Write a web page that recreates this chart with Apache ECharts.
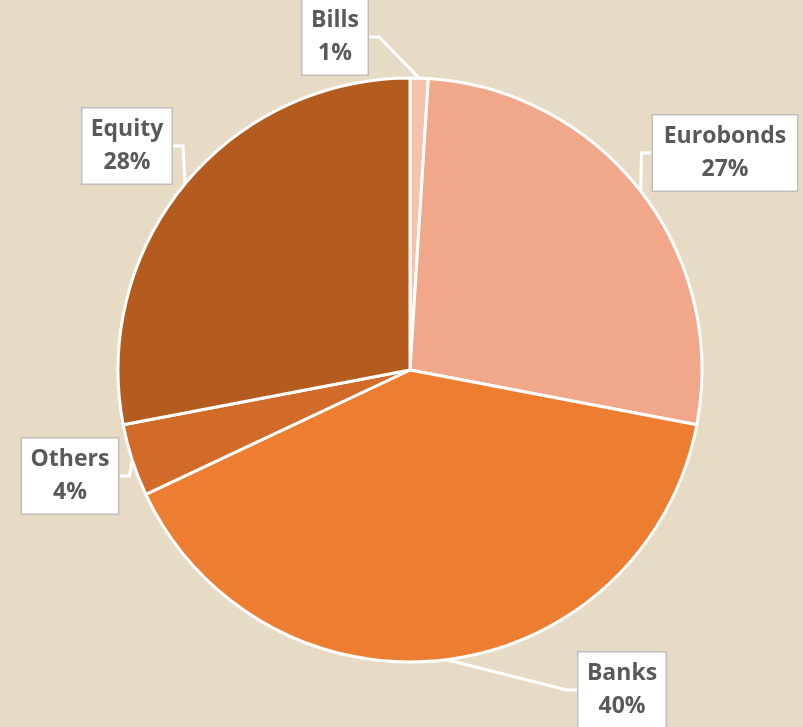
<!DOCTYPE html>
<html>
<head>
<meta charset="utf-8">
<script src="https://cdn.jsdelivr.net/npm/echarts@6/dist/echarts.min.js"></script>
<style>
  html, body { margin: 0; padding: 0; background: #E8DBC5; }
  #chart { width: 803px; height: 727px; }
</style>
</head>
<body>
<div id="chart"></div>
<script>
// 数据
const categories = ['Bills', 'Eurobonds', 'Banks', 'Others', 'Equity']
const shares = [1, 27, 40, 4, 28]
const colors = ['#F5C2AB', '#F1A78A', '#ED7D31', '#D26A29', '#B45C1F']

// 标签框中心位置与宽度
const labelPos = [[335, 37], [725, 153], [622, 690], [70, 476], [127, 146]]
const labelWidths = [49, 128, 71, 80, 73]

const chart = echarts.init(document.getElementById('chart'))

const option = {
  backgroundColor: '#E8DBC5',
  animation: false,
  series: [
    {
      type: 'pie',
      center: [410, 370],
      radius: 292,
      startAngle: 90,
      clockwise: true,
      data: categories.map((name, i) => ({
        name: name,
        value: shares[i],
        itemStyle: { color: colors[i] },
        label: { width: labelWidths[i] }
      })),
      itemStyle: { borderColor: '#fff', borderWidth: 3 },
      label: {
        show: true,
        formatter: '{b}\n{c}%',
        fontFamily: 'Open Sans',
        fontWeight: 'bold',
        fontSize: 23,
        lineHeight: 33,
        color: '#595959',
        backgroundColor: '#fff',
        borderColor: '#BFBFBF',
        borderWidth: 1.5,
        padding: [5, 8, 4, 8],
        align: 'center',
        overflow: 'none'
      },
      labelLine: {
        show: true,
        length: 10,
        length2: 10,
        lineStyle: { color: '#fff', width: 3 }
      },
      labelLayout: function (params) {
        const p = labelPos[params.dataIndex]
        return {
          x: p[0],
          y: p[1],
          align: 'center',
          verticalAlign: 'middle'
        }
      },
      emphasis: { disabled: true }
    }
  ]
}

chart.setOption(option)
</script>
</body>
</html>
